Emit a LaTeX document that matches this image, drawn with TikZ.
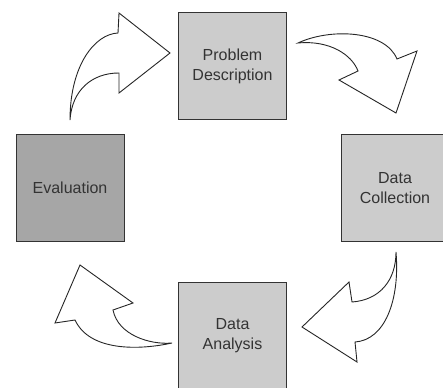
\documentclass[tikz,border=0pt]{standalone}
\usepackage{fontspec}
\setmainfont{Liberation Sans}
\usetikzlibrary{positioning}
\tikzset{
  stage/.style={rectangle, draw=black!80, line width=1pt, minimum width=108pt, minimum height=107pt,
    fill=gray!40, text=black!80, align=center, font=\fontsize{16}{20}\selectfont},
  bigarrow/.style={draw=black!85, line width=0.9pt, fill=white, line join=miter}
}

\begin{document}
\begin{tikzpicture}[x=1pt, y=-1pt]
\useasboundingbox (0,0) rectangle (443,387);

\node (pd) [stage] at (232.5,66) {Problem\\Description};
\node (dc) [stage] at (395,188) {Data\\Collection};
\node (da) [stage] at (232.5,336) {Data\\Analysis};
\node (ev) [stage, fill=gray!70] at (70,188) {Evaluation};

% Curved block arrows
\draw [bigarrow] (70,120) .. controls (70,65) and (95,34) .. (118,33) -- (119,13) -- (170,53)
  -- (119,93) -- (119,73) .. controls (92,73) and (72,90) .. (70,120) -- cycle;
\draw [bigarrow] (298,43) .. controls (330,28) and (385,30) .. (397,59) -- (417,51) -- (396,113)
  -- (339,80) -- (358,71) .. controls (352,55) and (330,40) .. (298,43) -- cycle;
\draw [bigarrow] (396,252) .. controls (400,300) and (385,340) .. (355,342) -- (357,362) -- (302,327)
  -- (349,282) -- (352,302) .. controls (380,300) and (396,280) .. (396,252) -- cycle;
\draw [bigarrow] (172,343) .. controls (140,350) and (90,352) .. (75,320) -- (55,323) -- (80,265)
  -- (133,303) -- (113,310) .. controls (118,335) and (150,345) .. (172,343) -- cycle;

\end{tikzpicture}
\end{document}
